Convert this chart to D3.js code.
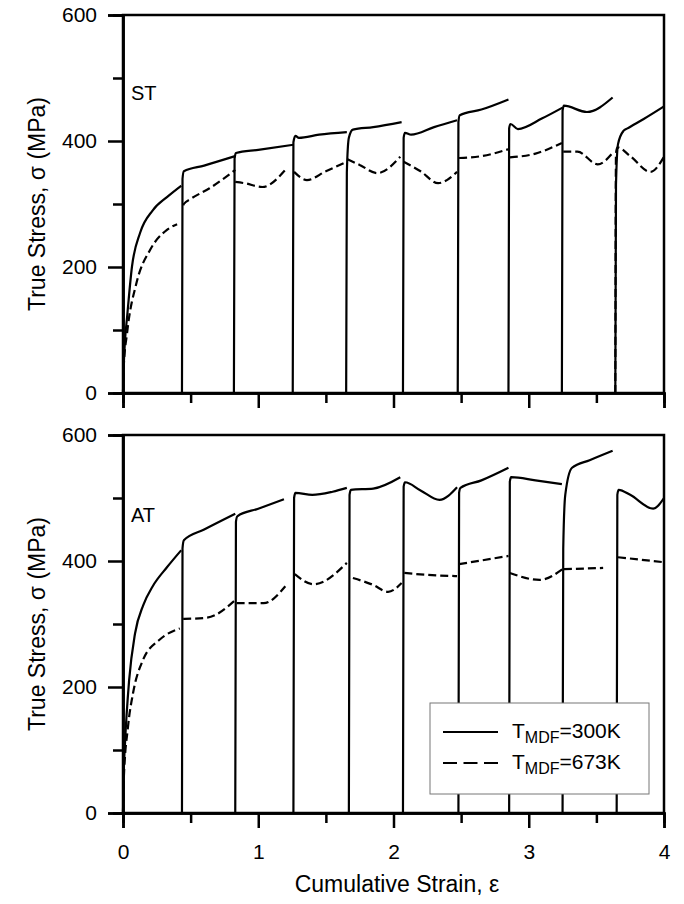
<!DOCTYPE html>
<html>
<head>
<meta charset="utf-8">
<script src="https://cdn.jsdelivr.net/npm/d3@7"></script>
<style>
  body { margin: 0; background: #fff; }
  text { font-family: "Liberation Sans", Arial, sans-serif; fill: #000; }
</style>
</head>
<body>
<div id="chart"></div>
<script>
// tick values
var xMajor = [0, 1, 2, 3, 4];
var xMinor = [0.5, 1.5, 2.5, 3.5];
var yMajor = [0, 200, 400, 600];
var yMinor = [100, 300, 500];

var panelNames = ["ST", "AT"];
var legendLabels = ["=300K", "=673K"];

// each series = list of passes, each pass = [strain, stress] points
var st300 = [
  [[0,0],[0.005,40],[0.015,84],[0.03,120],[0.066,200],[0.126,254],[0.22,290],[0.325,311],[0.43,329]],
  [[0.436,0],[0.44,340],[0.45,352],[0.6,361],[0.83,376]],
  [[0.82,0],[0.825,372],[0.835,381],[1.0,386],[1.26,394]],
  [[1.255,0],[1.26,398],[1.275,408],[1.30,405],[1.45,410],[1.655,414]],
  [[1.65,0],[1.655,350],[1.67,405],[1.70,418],[1.85,422],[2.06,430]],
  [[2.07,0],[2.075,405],[2.085,413],[2.13,410],[2.3,422],[2.47,433]],
  [[2.475,0],[2.48,430],[2.49,441],[2.65,450],[2.85,466]],
  [[2.85,0],[2.855,420],[2.865,427],[2.92,419],[3.1,436],[3.25,453]],
  [[3.245,0],[3.25,448],[3.26,456],[3.43,446],[3.62,469]],
  [[3.64,0],[3.645,330],[3.66,395],[3.7,416],[3.73,420],[3.85,435],[4.0,455]]
];
var st673 = [
  [[0,0],[0.005,40],[0.03,95],[0.1,175],[0.2,227],[0.325,259],[0.40,268]],
  [[0.445,298],[0.45,300],[0.5,308],[0.64,325],[0.83,354]],
  [[0.83,335],[0.9,333],[1.03,327],[1.2,354]],
  [[1.265,351],[1.36,338],[1.5,352],[1.655,367]],
  [[1.66,371],[1.75,362],[1.88,349],[2.05,375]],
  [[2.075,367],[2.2,352],[2.33,333],[2.47,351]],
  [[2.485,373],[2.65,376],[2.85,387]],
  [[2.86,374],[3.05,380],[3.245,397]],
  [[3.255,383],[3.36,383],[3.51,363],[3.62,381]],
  [[3.64,0],[3.645,380],[3.655,390],[3.75,376],[3.9,351],[4.0,375]]
];
var at300 = [
  [[0,0],[0.005,60],[0.015,111],[0.045,210],[0.089,285],[0.15,330],[0.22,360],[0.325,390],[0.43,417]],
  [[0.436,0],[0.44,420],[0.45,433],[0.6,450],[0.83,475]],
  [[0.83,0],[0.835,462],[0.845,471],[1.0,483],[1.19,498]],
  [[1.26,0],[1.265,500],[1.275,508],[1.4,505],[1.55,510],[1.655,516]],
  [[1.67,0],[1.675,505],[1.685,513],[1.85,515],[2.05,533]],
  [[2.07,0],[2.075,518],[2.085,525],[2.2,512],[2.34,497],[2.47,517]],
  [[2.48,0],[2.485,508],[2.495,516],[2.65,528],[2.85,548]],
  [[2.855,0],[2.86,526],[2.87,533],[3.05,528],[3.245,522]],
  [[3.25,0],[3.255,420],[3.27,505],[3.32,548],[3.45,560],[3.62,575]],
  [[3.65,0],[3.655,505],[3.665,513],[3.75,505],[3.92,483],[4.0,500]]
];
var at673 = [
  [[0,0],[0.005,50],[0.037,137],[0.074,190],[0.148,243],[0.27,275],[0.42,293]],
  [[0.445,308],[0.62,310],[0.83,338]],
  [[0.84,333],[1.04,333],[1.2,360]],
  [[1.27,379],[1.41,363],[1.655,397]],
  [[1.70,373],[1.85,362],[1.96,351],[2.06,365]],
  [[2.08,381],[2.25,378],[2.47,376]],
  [[2.485,395],[2.85,408]],
  [[2.86,381],[3.08,370],[3.25,387]],
  [[3.26,387],[3.55,389]],
  [[3.66,406],[4.0,398]]
];

var panelData = [[st300, st673], [at300, at673]];

var width = 684, height = 904;
var left = 123, right = 664, panelH = 378;
var panelTops = [15, 435];
var dash = "8,4";

var svg = d3.select("#chart")
  .append("svg")
  .attr("width", width)
  .attr("height", height);

var x = d3.scaleLinear().domain([0, 4]).range([left, right]);

panelTops.forEach(function(top, p) {
  var y = d3.scaleLinear().domain([0, 600]).range([top + panelH, top]);
  var g = svg.append("g");

  // frame (top + right)
  g.append("rect")
    .attr("x", left).attr("y", top)
    .attr("width", right - left).attr("height", panelH)
    .attr("fill", "none").attr("stroke", "#000").attr("stroke-width", 2.5);

  // y axis: minor then major
  g.append("g").attr("transform", "translate(" + left + ",0)")
    .call(d3.axisLeft(y).tickValues(yMinor).tickSize(10).tickFormat(""));
  g.append("g").attr("transform", "translate(" + left + ",0)")
    .call(d3.axisLeft(y).tickValues(yMajor).tickSize(15).tickPadding(11))
    .selectAll("text").style("font-size", "21px");

  // x axis
  g.append("g").attr("transform", "translate(0," + (top + panelH) + ")")
    .call(d3.axisBottom(x).tickValues(xMinor).tickSize(10).tickFormat(""));
  var xa = g.append("g").attr("transform", "translate(0," + (top + panelH) + ")")
    .call(d3.axisBottom(x).tickValues(xMajor).tickSize(15).tickPadding(16)
      .tickFormat(p == 1 ? d3.format("d") : ""));
  xa.selectAll("text").style("font-size", "21px");

  g.selectAll(".domain").attr("stroke-width", 2.5);
  g.selectAll(".tick line").attr("stroke-width", 2.5);

  // curves
  var line = d3.line()
    .x(function(d) { return x(d[0]); })
    .y(function(d) { return y(d[1]); })
    .curve(d3.curveMonotoneX);

  panelData[p].forEach(function(series, s) {
    g.append("g").selectAll("path")
      .data(series)
      .join("path")
      .attr("d", line)
      .attr("fill", "none")
      .attr("stroke", "#000")
      .attr("stroke-width", 2.2)
      .attr("stroke-dasharray", s == 1 ? dash : null);
  });

  g.append("text")
    .attr("x", 131).attr("y", top + (p == 0 ? 85 : 87))
    .style("font-size", "20px")
    .text(panelNames[p]);

  // y title
  g.append("text")
    .attr("transform", "translate(45," + (top + panelH / 2) + ") rotate(-90)")
    .attr("text-anchor", "middle")
    .style("font-size", "23px")
    .text("True Stress, σ (MPa)");
});

// x title
svg.append("text")
  .attr("x", 397).attr("y", 892)
  .attr("text-anchor", "middle")
  .style("font-size", "23px")
  .text("Cumulative Strain, ε");

// legend
var lg = svg.append("g");
lg.append("rect")
  .attr("x", 430).attr("y", 703)
  .attr("width", 219).attr("height", 91)
  .attr("fill", "#fff").attr("stroke", "#777").attr("stroke-width", 1);

legendLabels.forEach(function(lab, i) {
  var ly = 732 + i * 31;
  lg.append("line")
    .attr("x1", 443).attr("x2", 498)
    .attr("y1", ly).attr("y2", ly)
    .attr("stroke", "#000").attr("stroke-width", 2.2)
    .attr("stroke-dasharray", i == 1 ? "14,6.5" : null);
  var t = lg.append("text")
    .attr("x", 512).attr("y", ly + 6)
    .style("font-size", "21px");
  t.append("tspan").text("T");
  t.append("tspan").attr("dy", 5).style("font-size", "16px").text("MDF");
  t.append("tspan").attr("dy", -5).text(lab);
});
</script>
</body>
</html>
